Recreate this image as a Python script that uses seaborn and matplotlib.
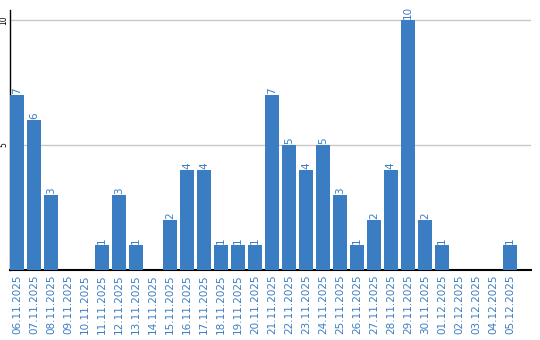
import matplotlib
matplotlib.use("Agg")
import matplotlib.pyplot as plt
import seaborn as sns
import pandas as pd

dates = ["06.11.2025", "07.11.2025", "08.11.2025", "09.11.2025", "10.11.2025",
         "11.11.2025", "12.11.2025", "13.11.2025", "14.11.2025", "15.11.2025",
         "16.11.2025", "17.11.2025", "18.11.2025", "19.11.2025", "20.11.2025",
         "21.11.2025", "22.11.2025", "23.11.2025", "24.11.2025", "25.11.2025",
         "26.11.2025", "27.11.2025", "28.11.2025", "29.11.2025", "30.11.2025",
         "01.12.2025", "02.12.2025", "03.12.2025", "04.12.2025", "05.12.2025"]
values = [7, 6, 3, 0, 0, 1, 3, 1, 0, 2, 4, 4, 1, 1, 1, 7, 5, 4, 5, 3,
          1, 2, 4, 10, 2, 1, 0, 0, 0, 1]
y_ticks = [5, 10]

BLUE = "#3b7dc3"

sns.set_style("white")
plt.rcParams["font.family"] = ["DejaVu Sans"]

df = pd.DataFrame({"date": dates, "count": values})

fig = plt.figure(figsize=(5.4, 3.4), dpi=100)
ax = fig.add_axes([10 / 540, 70 / 340, 521 / 540, 260 / 340])

sns.barplot(data=df, x="date", y="count", color=BLUE, saturation=1,
            width=0.82, ax=ax, zorder=3, linewidth=0, edgecolor="none")

for cont in ax.containers:
    labels = [str(v) if v > 0 else "" for v in values]
    ax.bar_label(cont, labels=labels, rotation=90, color=BLUE, fontsize=7.5,
                 padding=1)

ax.set_xlim(-0.41, 30.24)
ax.set_ylim(0, 10.4)
ax.set_yticks(y_ticks)
ax.set_yticklabels([str(t) for t in y_ticks], rotation=90, fontsize=5.5,
                   va="center", color="black")
ax.yaxis.grid(True, color="#c8c8c8", linewidth=1, zorder=0)
ax.set_axisbelow(True)
ax.tick_params(axis="y", length=0, pad=1.5)
ax.tick_params(axis="x", length=0, pad=3)
plt.setp(ax.get_xticklabels(), rotation=90, fontsize=7.5, color=BLUE)
ax.set_xlabel("")
ax.set_ylabel("")

for s in ["top", "right"]:
    ax.spines[s].set_visible(False)
ax.spines["left"].set_color("black")
ax.spines["bottom"].set_color("black")
ax.spines["left"].set_linewidth(1)
ax.spines["bottom"].set_linewidth(1.5)

fig.savefig("out.png", dpi=100)
